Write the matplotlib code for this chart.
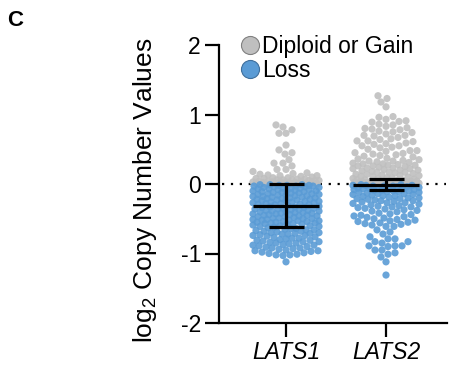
import numpy as np
import matplotlib.pyplot as plt
from matplotlib.lines import Line2D

plt.rcParams['font.family'] = ['Liberation Sans', 'DejaVu Sans']
plt.rcParams['mathtext.fontset'] = 'custom'
plt.rcParams['mathtext.rm'] = 'Liberation Sans'
plt.rcParams['axes.unicode_minus'] = False

genes = ['LATS1', 'LATS2']

# log2 copy number values (hundredths)
lats1_gain = np.array([
    85, 82, 78, 73, 73, 56, 49, 45, 43, 35, 30, 30, 26, 21, 21, 18, 16, 15,
    14, 13, 12, 12, 11, 10, 9, 9, 8, 8, 7, 7, 6, 6, 5, 5, 5, 4, 4, 4, 3, 3,
    3, 2, 2, 2, 2, 1, 1, 1, 1, 0, 0, 0, 0, 6, 3]) / 100
lats1_loss = -np.array([
    1, 1, 2, 2, 3, 3, 4, 5, 5, 6, 7, 7, 8, 9, 10, 10, 11, 12, 13, 13, 14, 15,
    16, 16, 17, 18, 19, 19, 20, 21, 22, 22, 23, 24, 25, 25, 26, 27, 28, 28,
    29, 30, 31, 2, 4, 6, 8, 11, 14, 17, 20, 23, 26, 29, 3, 9, 15, 21, 27, 12,
    18, 24, 30, 6, 1,
    32, 33, 34, 34, 35, 36, 37, 38, 38, 39, 40, 41, 42, 42, 43, 44, 45, 46,
    46, 47, 48, 49, 50, 50, 51, 52, 53, 54, 54, 55, 56, 57, 58, 58, 59, 60,
    61, 62, 33, 36, 39, 41, 44, 47, 49, 52, 55, 57, 60, 35, 40, 45, 51, 56,
    61, 37, 43, 53,
    63, 64, 65, 66, 66, 67, 68, 69, 70, 71, 72, 72, 73, 74, 75, 76, 77, 78,
    79, 80, 81, 82, 83, 84, 85, 86, 87, 88, 89, 90, 91, 92, 93, 94, 95, 96,
    97, 98, 99, 101, 102, 102, 103, 112, 64, 68, 71, 74, 78, 81, 85, 88, 92,
    96, 100, 70, 83]) / 100
lats2_gain = np.array([
    127, 123, 118, 111, 97, 96, 91, 90, 89, 86, 85, 81, 80, 79, 76, 75, 74,
    78, 83, 93,
    72, 70, 69, 67, 65, 64, 62, 61, 58, 57, 55, 53, 52, 50, 48, 47, 45, 44,
    42, 40, 39, 37, 36, 70, 62, 55, 48, 41, 59, 43,
    35, 34, 33, 32, 31, 30, 29, 28, 27, 26, 25, 24, 23, 22, 21, 20, 19, 18,
    17, 16, 15, 14, 13, 12, 11, 10, 9, 8, 7, 6, 5, 33, 29, 26, 23, 20, 17,
    14, 11, 8, 27, 22, 17, 12, 9, 6,
    5, 4, 4, 4, 3, 3, 3, 3, 2, 2, 2, 2, 2, 1, 1, 1, 1, 1, 0, 0, 0, 0, 0, 4,
    3, 2, 1, 0, 2, 1, 3, 1]) / 100
lats2_loss = -np.array([
    1, 1, 2, 2, 3, 3, 4, 4, 5, 5, 6, 6, 7, 7, 8, 8, 9, 10, 10, 11, 12, 12, 13,
    14, 14, 15, 16, 17, 17, 18, 19, 20, 20, 21, 22, 23, 24, 24, 25, 26, 27,
    28, 29, 30, 31, 32, 33, 34, 35, 36, 37, 38, 39, 40, 3, 9, 15, 21, 27, 33,
    2, 6, 11,
    42, 43, 45, 46, 47, 49, 50, 51, 53, 54, 55, 57, 58, 59, 61, 61, 44, 48,
    52, 56,
    66, 69, 72, 76, 79, 79, 83, 83, 85, 89, 89, 89, 90, 95, 95, 99, 101, 105,
    112, 131]) / 100

# error bars (centre line and whiskers) as drawn
bar_center = [-0.31, -0.01]
bar_low = [-0.62, -0.09]
bar_high = [0.0, 0.07]

gain_color = '#bfbfbf'
loss_color = '#5a9bd5'


def swarm_offsets(vals, xscale=100.0, yscale=69.5, diam=6.8, half=33.0):
    # simple beeswarm in pixel space, falls back to least overlap when full
    ys = vals * yscale
    cand = np.arange(-half, half + 0.5, 1.0)
    cand = cand[np.argsort(np.abs(cand), kind='stable')]
    px, py = [], []
    out = np.zeros(len(vals))
    for i in np.argsort(vals):
        y = ys[i]
        x = 0.0
        if px:
            ax_ = np.array(px)
            ay = np.array(py)
            near = np.abs(ay - y) < diam
            if near.any():
                dx = cand[:, None] - ax_[near][None, :]
                dy = (ay[near] - y)[None, :]
                dist = np.sqrt(dx ** 2 + dy ** 2).min(axis=1)
                ok = np.where(dist >= diam)[0]
                x = cand[ok[0]] if len(ok) else cand[np.argmax(dist)]
        px.append(x)
        py.append(y)
        out[i] = x / xscale
    return out


fig = plt.figure(figsize=(4.53, 3.73), dpi=100)
ax = fig.add_axes([219 / 453, 50 / 373, 228 / 453, 278 / 373])

ax.plot([0.36, 2.6], [0, 0], color='black', lw=1.6,
        linestyle=(0, (1, 3)), zorder=1)

for k, (g, l) in enumerate([(lats1_gain, lats1_loss), (lats2_gain, lats2_loss)]):
    vals = np.concatenate([g, l])
    offs = swarm_offsets(vals)
    cols = [gain_color] * len(g) + [loss_color] * len(l)
    ax.scatter(k + 1 + offs, vals, s=27, c=cols, linewidths=0,
               alpha=0.9, zorder=2)
    ax.hlines(bar_center[k], k + 1 - 0.33, k + 1 + 0.33, color='black',
              lw=2.3, zorder=3)
    ax.vlines(k + 1, bar_low[k], bar_high[k], color='black', lw=2.3, zorder=3)
    ax.hlines([bar_low[k], bar_high[k]], k + 1 - 0.175, k + 1 + 0.175,
              color='black', lw=2.3, zorder=3)

ax.set_xlim(0.33, 2.61)
ax.set_ylim(-2, 2)
ax.set_yticks([-2, -1, 0, 1, 2])
ax.set_xticks([1, 2])
ax.set_xticklabels(genes, fontstyle='italic')
for s in ['top', 'right']:
    ax.spines[s].set_visible(False)
for s in ['left', 'bottom']:
    ax.spines[s].set_linewidth(1.6)
ax.tick_params(direction='out', length=10, width=1.6, labelsize=16.5, pad=3)

fig.text(145 / 453, 1 - 190 / 373, 'log$_2$ Copy Number Values', fontsize=19,
         rotation=90, ha='center', va='center')
fig.text(7 / 453, 1 - 20 / 373, 'C', fontsize=16, weight='bold', va='center')

handles = [
    Line2D([], [], marker='o', ls='', markersize=13, markerfacecolor=gain_color,
           markeredgecolor='#808080', markeredgewidth=0.8),
    Line2D([], [], marker='o', ls='', markersize=13, markerfacecolor=loss_color,
           markeredgecolor='#3f6f9c', markeredgewidth=0.8),
]
fig.legend(handles, ['Diploid or Gain', 'Loss'], loc='center left',
           bbox_to_anchor=(240.5 / 453, 1 - 58.5 / 373), frameon=False,
           fontsize=16.5, handlelength=0.8, handletextpad=0.15,
           labelspacing=0.05, borderpad=0, borderaxespad=0)

fig.savefig('out.png', dpi=100)
